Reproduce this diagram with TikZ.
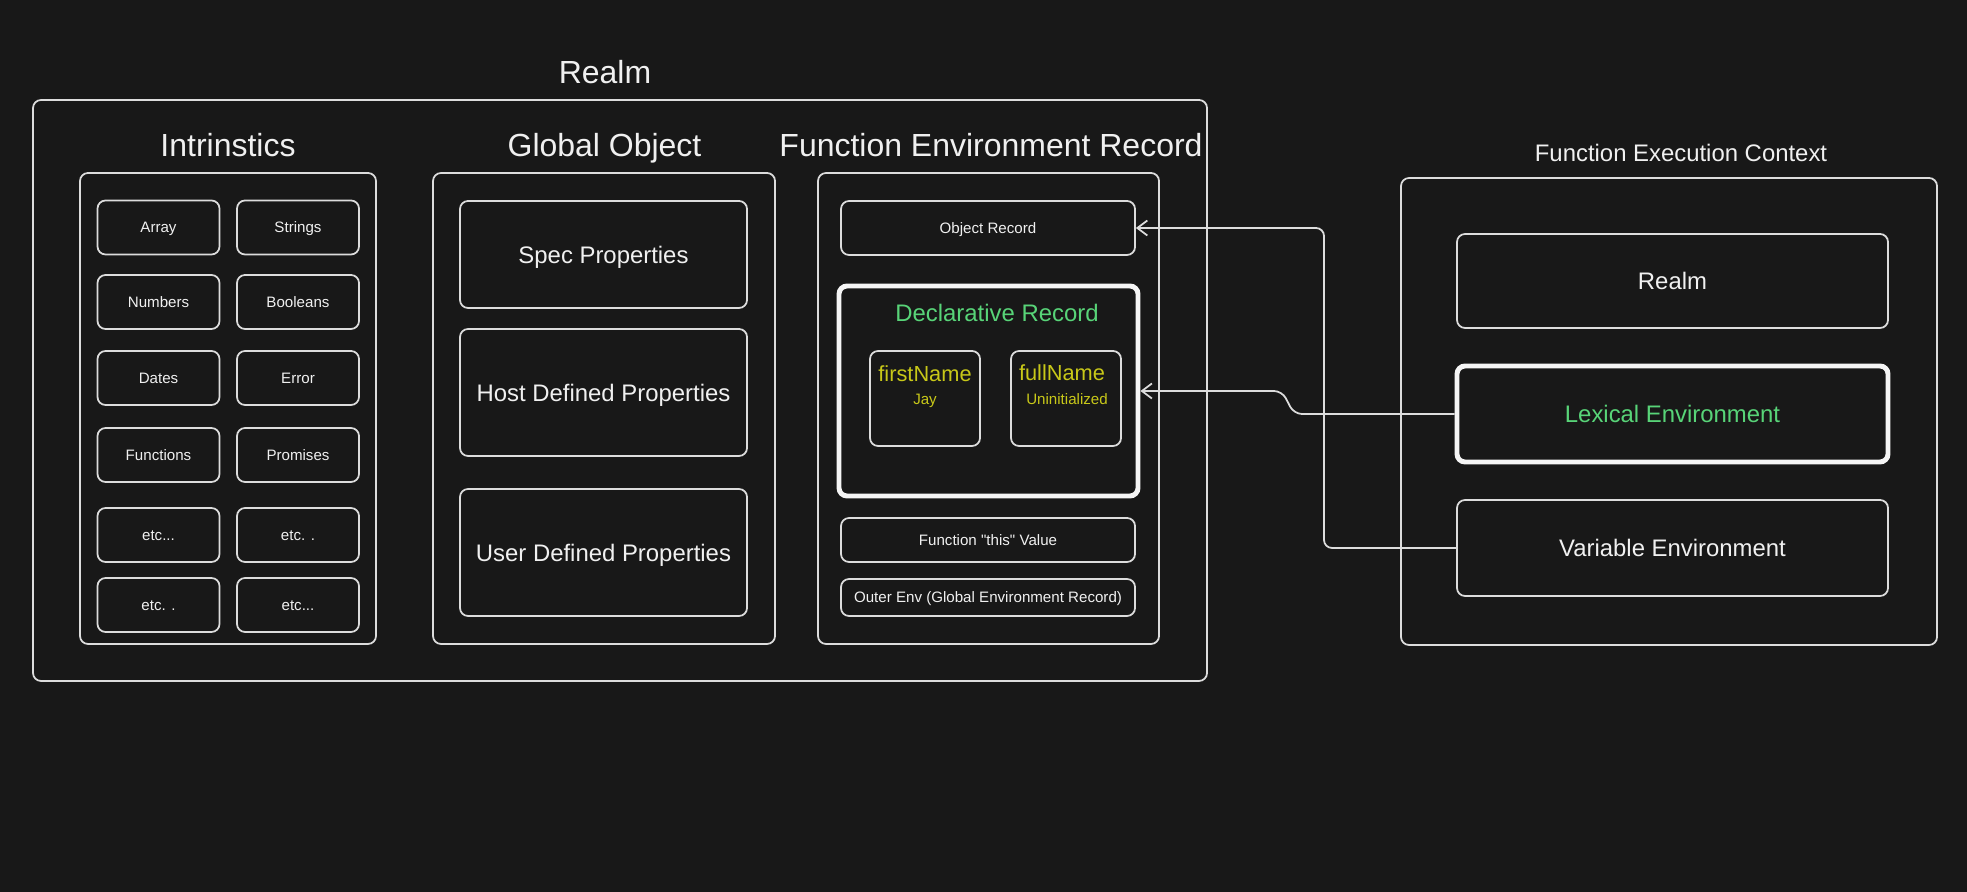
\documentclass[tikz,border=0pt]{standalone}
\usepackage{fontspec}
\setmainfont{Liberation Sans}
\usetikzlibrary{arrows.meta}
\definecolor{bgc}{RGB}{24,24,24}
\definecolor{linec}{RGB}{220,220,220}
\definecolor{thickc}{RGB}{245,245,245}
\definecolor{textc}{RGB}{240,240,240}
\definecolor{declgreen}{RGB}{88,212,120}
\definecolor{nameyellow}{RGB}{200,200,24}
\begin{document}
\begin{tikzpicture}[x=0.1mm, y=-0.1mm,
    box/.style={draw=linec, line width=0.5pt, rounded corners=0.8mm, inner sep=0pt, text=textc},
    thickbox/.style={box, draw=thickc, line width=1.4pt},
    big/.style={text=textc, text height=6.55pt, text depth=0pt, font=\fontsize{9.1pt}{11pt}\selectfont},
    mid/.style={text=textc, text height=4.9pt, text depth=0pt, font=\fontsize{6.8pt}{8pt}\selectfont},
    vname/.style={text=nameyellow, text height=4.46pt, text depth=0pt, font=\fontsize{6.2pt}{7pt}\selectfont},
    small/.style={text=textc, text height=3.1pt, text depth=0pt, font=\fontsize{4.3pt}{5pt}\selectfont},
    cell/.style={box, small, minimum width=12.2mm, minimum height=5.4mm},
    conn/.style={draw=linec, line width=0.5pt, rounded corners=0.8mm, -{Straight Barb[length=1mm, width=1.5mm]}}]
    \fill[bgc] (0,0) rectangle (1967,892);
    \useasboundingbox (0,0) rectangle (1967,892);
    % realm
    \node[box, minimum width=117.4mm, minimum height=58.1mm] (realm) at (620,390.5) {};
    \node[big] (realmtitle) at (605,72) {Realm};
    % intrinsics
    \node[box, minimum width=29.6mm, minimum height=47.1mm] (intr) at (228,408.5) {};
    \node[big] (intrtitle) at (228,145) {Intrinstics};
    \node[cell] (array) at (158.5,227.5) {Array};
    \node[cell] (strings) at (298,227.5) {Strings};
    \node[cell] (numbers) at (158.5,302) {Numbers};
    \node[cell] (booleans) at (298,302) {Booleans};
    \node[cell] (dates) at (158.5,378) {Dates};
    \node[cell] (error) at (298,378) {Error};
    \node[cell] (functions) at (158.5,455) {Functions};
    \node[cell] (promises) at (298,455) {Promises};
    \node[cell] (etca) at (158.5,535) {etc...};
    \node[cell] (etcb) at (298,535) {etc. .};
    \node[cell] (etcc) at (158.5,605) {etc. .};
    \node[cell] (etcd) at (298,605) {etc...};
    % global object
    \node[box, minimum width=34.2mm, minimum height=47.1mm] (glob) at (604,408.5) {};
    \node[big] (globtitle) at (604.5,145) {Global Object};
    \node[box, mid, minimum width=28.7mm, minimum height=10.7mm] (spec) at (603.5,254.5) {Spec Properties};
    \node[box, mid, minimum width=28.7mm, minimum height=12.7mm] (host) at (603.5,392.5) {Host Defined Properties};
    \node[box, mid, minimum width=28.7mm, minimum height=12.7mm] (user) at (603.5,552.5) {User Defined Properties};
    % function environment record
    \node[box, minimum width=34.1mm, minimum height=47.1mm] (fer) at (988.5,408.5) {};
    \node[big] (fertitle) at (991,145) {Function Environment Record};
    \node[box, small, minimum width=29.4mm, minimum height=5.4mm] (objrec) at (988,228) {Object Record};
    \node[thickbox, minimum width=29.9mm, minimum height=21mm] (decl) at (988.5,391) {};
    \node[mid, text=declgreen] (decltitle) at (997,313) {Declarative Record};
    \node[box, minimum width=11mm, minimum height=9.5mm] (first) at (925,398.5) {};
    \node[vname] (firstname) at (925,374) {firstName};
    \node[small, text=nameyellow] (firstval) at (925,399) {Jay};
    \node[box, minimum width=11mm, minimum height=9.5mm] (full) at (1066,398.5) {};
    \node[vname] (fullname) at (1062,373) {fullName};
    \node[small, text=nameyellow] (fullval) at (1067,399) {Uninitialized};
    \node[box, small, minimum width=29.4mm, minimum height=4.4mm] (thisval) at (988,540) {Function \textquotedbl this\textquotedbl{} Value};
    \node[box, small, minimum width=29.4mm, minimum height=3.7mm] (outer) at (988,597.5) {Outer Env (Global Environment Record)};
    % function execution context
    \node[box, minimum width=53.6mm, minimum height=46.7mm] (fec) at (1669,411.5) {};
    \node[mid] (fectitle) at (1681,153) {Function Execution Context};
    \node[box, mid, minimum width=43.1mm, minimum height=9.4mm] (fecrealm) at (1672.5,281) {Realm};
    \node[thickbox, mid, text=declgreen, minimum width=43.1mm, minimum height=9.6mm] (lexenv) at (1672.5,414) {Lexical Environment};
    \node[box, mid, minimum width=43.1mm, minimum height=9.6mm] (varenv) at (1672.5,548) {Variable Environment};
    % connectors
    \coordinate (varbend) at (1324,0);
    \coordinate (lexa) at (1294,414);
    \coordinate (lexb) at (1282,391);
    \draw[conn] (varenv.west) -- (varenv.west -| varbend) |- (objrec.east);
    \draw[conn] (lexenv.west) -- (lexa) -- (lexb) -- (decl.east);
\end{tikzpicture}
\end{document}
